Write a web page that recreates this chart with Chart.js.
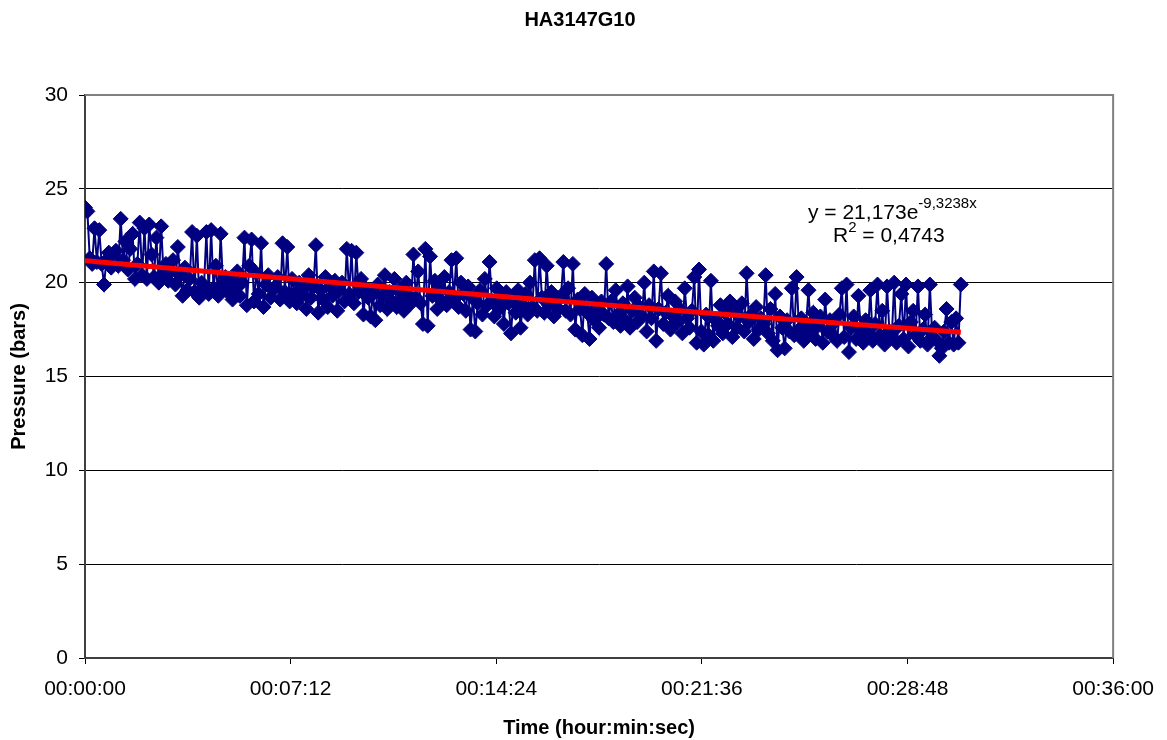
<!DOCTYPE html>
<html>
<head>
<meta charset="utf-8">
<title>HA3147G10</title>
<script src="https://cdn.jsdelivr.net/npm/chart.js@4/dist/chart.umd.min.js"></script>
<style>
  html, body { margin: 0; padding: 0; background: #ffffff; }
  canvas { display: block; }
</style>
</head>
<body>
<canvas id="chart" width="1167" height="740"></canvas>
<script>
// Pressure log for borehole section HA3147G10, one reading every 5 seconds.
const sampleSeconds = 5;

const pressureBars = [
  // 00:00:00 - 00:01:35
  24.0, 23.8, 21.3, 21.0, 22.9, 21.1, 22.8, 21.0, 19.9, 21.2, 21.6, 20.8, 21.5, 21.7, 20.9, 23.4, 21.2, 22.2, 20.7, 21.8,
  // 00:01:40 - 00:03:15
  22.6, 20.2, 21.0, 23.2, 20.4, 22.9, 20.2, 23.1, 21.5, 20.3, 22.4, 20.0, 23.0, 20.5, 21.0, 20.1, 20.6, 21.2, 19.9, 21.9,
  // 00:03:20 - 00:04:55
  20.4, 19.3, 20.8, 19.6, 20.2, 22.7, 19.5, 22.5, 19.2, 20.0, 19.8, 22.7, 19.4, 22.8, 19.7, 20.9, 19.3, 22.6, 19.9, 20.3,
  // 00:05:00 - 00:06:35
  19.5, 20.2, 19.1, 19.7, 20.6, 19.3, 20.0, 22.4, 18.8, 20.9, 22.3, 19.0, 20.5, 19.4, 22.1, 18.7, 19.9, 20.4, 19.2, 19.6,
  // 00:06:40 - 00:08:15
  19.8, 20.3, 19.1, 22.1, 19.5, 21.9, 19.0, 20.2, 19.4, 18.9, 20.0, 19.3, 19.7, 18.6, 20.4, 19.2, 19.8, 22.0, 18.4, 19.6,
  // 00:08:20 - 00:09:55
  19.1, 20.3, 18.7, 19.8, 19.3, 20.1, 18.5, 19.6, 20.0, 19.0, 21.8, 19.4, 21.7, 18.9, 21.6, 19.5, 20.2, 18.3, 19.7, 19.2,
  // 00:10:00 - 00:11:35
  18.2, 19.4, 18.0, 19.9, 18.8, 19.3, 20.4, 18.6, 19.5, 19.0, 20.2, 18.7, 19.6, 19.1, 18.5, 20.0, 19.3, 18.9, 21.5, 19.2,
  // 00:11:40 - 00:13:15
  20.6, 18.9, 17.8, 21.8, 17.7, 21.4, 19.3, 20.1, 18.6, 19.7, 19.0, 20.3, 18.8, 19.5, 21.2, 19.1, 21.3, 18.7, 20.0, 19.4,
  // 00:13:20 - 00:14:55
  18.5, 19.8, 17.5, 19.2, 17.4, 18.9, 19.6, 18.3, 20.2, 18.8, 21.1, 19.0, 18.2, 19.7, 18.6, 19.3, 17.8, 19.5, 18.9, 17.3,
  // 00:15:00 - 00:16:35
  19.1, 18.4, 19.6, 17.6, 18.8, 19.4, 18.3, 20.0, 18.7, 21.2, 18.5, 21.3, 19.2, 18.4, 20.9, 18.8, 19.5, 18.2, 19.0, 18.6,
  // 00:16:40 - 00:18:15
  19.3, 21.1, 18.5, 19.7, 18.3, 21.0, 17.5, 19.1, 18.6, 17.2, 19.4, 18.4, 17.0, 19.2, 18.0, 18.7, 17.6, 19.0, 18.3, 21.0,
  // 00:18:20 - 00:19:55
  18.1, 19.0, 17.9, 19.6, 18.3, 17.7, 18.9, 18.0, 19.8, 17.6, 18.5, 19.2, 17.9, 18.7, 18.2, 20.0, 17.4, 18.8, 18.1, 20.6,
  // 00:20:00 - 00:21:35
  16.9, 18.6, 20.5, 17.8, 18.4, 19.3, 17.5, 18.2, 19.0, 17.9, 18.6, 17.3, 19.7, 18.1, 17.6, 18.5, 20.3, 16.8, 20.7, 17.4,
  // 00:21:40 - 00:23:15
  16.7, 18.3, 17.2, 20.1, 16.9, 18.0, 17.7, 18.8, 17.3, 18.4, 17.8, 19.0, 17.1, 18.5, 17.6, 18.2, 18.9, 17.4, 20.5, 17.9,
  // 00:23:20 - 00:24:55
  18.3, 17.0, 18.7, 17.5, 18.1, 17.8, 20.4, 17.3, 18.6, 16.9, 19.4, 16.4, 18.2, 17.6, 16.5, 18.0, 17.4, 19.7, 17.2, 20.3,
  // 00:25:00 - 00:26:35
  17.5, 18.1, 16.9, 17.8, 19.6, 17.3, 18.4, 17.0, 17.7, 18.2, 16.8, 19.1, 17.4, 18.0, 17.2, 17.9, 16.9, 18.3, 19.7, 17.1,
  // 00:26:40 - 00:28:15
  19.9, 16.3, 17.6, 18.2, 17.0, 19.3, 17.5, 16.8, 18.0, 17.3, 19.6, 16.9, 17.8, 19.9, 17.2, 18.5, 16.7, 19.8, 17.4, 17.1,
  // 00:28:20 - 00:29:55
  20.0, 16.8, 17.7, 19.4, 17.0, 19.9, 16.6, 17.9, 18.5, 17.2, 19.8, 16.9, 17.5, 18.3, 16.7, 19.9, 17.1, 17.6, 16.9, 16.1,
  // 00:30:00 - 00:30:40
  16.5, 17.4, 18.6, 16.8, 17.9, 16.7, 18.1, 16.8, 19.9
];

// Exponential trendline fitted to the series (x in days): y = a * e^(b x)
const trendA = 21.173;
const trendB = -9.3238;
const trendR2 = 0.4743;

// Axis settings: time in seconds, ticks every 7 min 12 s
const xMaxSeconds = 2160;
const xStepSeconds = 432;
const yMax = 30;
const yStep = 5;

const chartTitle = 'HA3147G10';
const FONT = "'Liberation Sans', Arial, Helvetica, sans-serif";

const seriesPoints = pressureBars.map((v, i) => ({ x: i * sampleSeconds, y: v }));
const trendPoints = seriesPoints.map(p => ({
  x: p.x,
  y: trendA * Math.exp(trendB * p.x / 86400)
}));

function formatHMS(sec) {
  const s = Math.round(sec);
  const h = Math.floor(s / 3600);
  const m = Math.floor((s % 3600) / 60);
  const r = s % 60;
  const pad = n => String(n).padStart(2, '0');
  return pad(h) + ':' + pad(m) + ':' + pad(r);
}

function fmtComma(n, digits) {
  return n.toFixed(digits).replace('.', ',');
}

// Chart title, frame of the plot area and the trendline equation
const plotDecor = {
  id: 'plotDecor',
  beforeDatasetsDraw(chart) {
    const { ctx, chartArea: a } = chart;
    ctx.save();
    ctx.strokeStyle = '#808080';
    ctx.lineWidth = 2;
    ctx.beginPath();
    ctx.moveTo(a.left, a.top);
    ctx.lineTo(a.right, a.top);
    ctx.lineTo(a.right, a.bottom);
    ctx.stroke();
    ctx.restore();
  },
  afterDraw(chart) {
    const { ctx, chartArea: a } = chart;
    ctx.save();
    ctx.fillStyle = '#000';

    // title
    ctx.font = 'bold 20px ' + FONT;
    ctx.textAlign = 'center';
    ctx.textBaseline = 'middle';
    ctx.fillText(chartTitle, 580, 20);

    ctx.textBaseline = 'alphabetic';
    ctx.textAlign = 'left';

    // line 1: y = 21,173e^-9,3238x
    let x = a.left + 723;
    let y = a.top + 124;
    ctx.font = '21px ' + FONT;
    const main1 = 'y = ' + fmtComma(trendA, 3) + 'e';
    ctx.fillText(main1, x, y);
    x += ctx.measureText(main1).width;
    ctx.font = '15px ' + FONT;
    ctx.fillText(fmtComma(trendB, 4) + 'x', x, y - 11);

    // line 2: R^2 = 0,4743
    x = a.left + 748;
    y = a.top + 146.5;
    ctx.font = '21px ' + FONT;
    ctx.fillText('R', x, y);
    x += ctx.measureText('R').width;
    ctx.font = '15px ' + FONT;
    ctx.fillText('2', x, y - 10);
    x += ctx.measureText('2').width;
    ctx.font = '21px ' + FONT;
    ctx.fillText(' = ' + fmtComma(trendR2, 4), x, y);
    ctx.restore();
  }
};

new Chart(document.getElementById('chart'), {
  type: 'line',
  data: {
    datasets: [
      {
        label: 'Pressure',
        data: seriesPoints,
        order: 1,
        borderColor: '#000080',
        backgroundColor: '#000080',
        borderWidth: 2,
        tension: 0,
        pointStyle: 'rectRot',
        pointRadius: 7.5,
        pointBorderWidth: 1,
        pointBackgroundColor: '#000080',
        pointBorderColor: '#000080',
        pointHoverRadius: 7.5
      },
      {
        label: 'Expon. (Pressure)',
        data: trendPoints,
        order: 0,
        borderColor: '#ff0000',
        borderWidth: 5,
        pointRadius: 0,
        pointHoverRadius: 0,
        tension: 0
      }
    ]
  },
  options: {
    responsive: false,
    animation: false,
    events: [],
    layout: { padding: { left: 0, right: 53, top: 95, bottom: 0 } },
    plugins: {
      legend: { display: false },
      tooltip: { enabled: false },
      title: { display: false }
    },
    scales: {
      x: {
        type: 'linear',
        min: 0,
        max: xMaxSeconds,
        afterFit(scale) { scale.height = 82; },
        ticks: {
          stepSize: xStepSeconds,
          color: '#000',
          font: { family: FONT, size: 21 },
          padding: 13,
          maxRotation: 0,
          autoSkip: false,
          callback: v => formatHMS(v)
        },
        grid: {
          drawOnChartArea: false,
          drawTicks: true,
          tickLength: 6,
          tickColor: '#000',
          tickWidth: 1
        },
        border: { display: true, color: '#404040', width: 2 },
        title: {
          display: true,
          text: 'Time (hour:min:sec)',
          color: '#000',
          font: { family: FONT, size: 20, weight: 'bold', lineHeight: 1.2 },
          padding: { top: 0, bottom: 0 }
        }
      },
      y: {
        min: 0,
        max: yMax,
        afterFit(scale) { scale.width = 85; },
        ticks: {
          stepSize: yStep,
          color: '#000',
          font: { family: FONT, size: 21 },
          padding: 11
        },
        grid: {
          color: c => (c.tick && (c.tick.value === 0 || c.tick.value === yMax)) ? 'rgba(0,0,0,0)' : '#000',
          lineWidth: 1,
          drawTicks: true,
          tickLength: 6,
          tickColor: '#000',
          tickWidth: 1
        },
        border: { display: true, color: '#404040', width: 2 },
        title: {
          display: true,
          text: 'Pressure (bars)',
          color: '#000',
          font: { family: FONT, size: 20, weight: 'bold', lineHeight: 1.2 },
          padding: { top: 7, bottom: 0 }
        }
      }
    }
  },
  plugins: [plotDecor]
});
</script>
</body>
</html>
